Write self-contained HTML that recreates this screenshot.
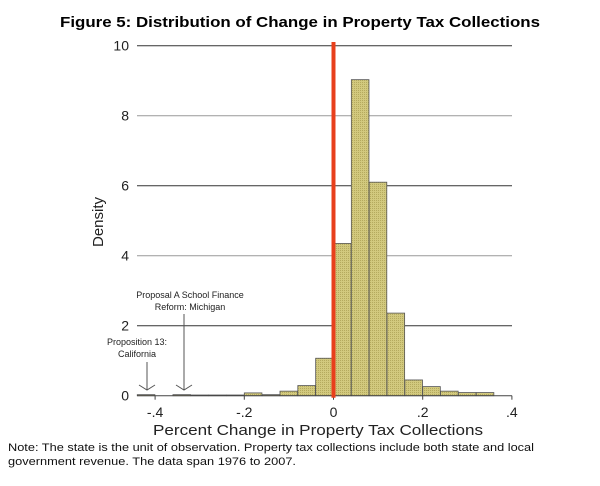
<!DOCTYPE html>
<html><head><meta charset="utf-8"><style>
html,body{margin:0;padding:0;background:#fff;}
svg{display:block;font-family:"Liberation Sans",Arial,sans-serif;}
</style></head><body>
<svg id="chart" width="600" height="486" viewBox="0 0 600 486">
<defs>
<pattern id="dots" width="2" height="2" patternUnits="userSpaceOnUse">
<rect width="2" height="2" fill="#d2c97e"/><rect width="1" height="1" fill="#b5aa5e"/>
</pattern>
</defs>
<text x="300" y="27" text-anchor="middle" font-size="15" font-weight="bold" textLength="480" lengthAdjust="spacingAndGlyphs">Figure 5: Distribution of Change in Property Tax Collections</text>
<g id="grid"></g>
<g id="bars"></g>
<g id="axis"></g>
<text transform="translate(103,222) rotate(-90)" text-anchor="middle" font-size="15" fill="#222">Density</text>
<text x="318" y="435" text-anchor="middle" font-size="15" fill="#222" textLength="330" lengthAdjust="spacingAndGlyphs">Percent Change in Property Tax Collections</text>
<g>
<text x="190" y="298" text-anchor="middle" font-size="9" fill="#222">Proposal A School Finance</text>
<text x="190" y="310" text-anchor="middle" font-size="9" fill="#222">Reform: Michigan</text>
<line x1="184" y1="314" x2="184" y2="390" stroke="#555" stroke-width="1"/>
<polyline points="176,385 184,390 192,385" fill="none" stroke="#555" stroke-width="1"/>
</g>
<g>
<text x="137" y="345" text-anchor="middle" font-size="9" fill="#222">Proposition 13:</text>
<text x="137" y="357" text-anchor="middle" font-size="9" fill="#222">California</text>
<line x1="147" y1="362" x2="147" y2="390" stroke="#555" stroke-width="1"/>
<polyline points="139,385 147,390 155,385" fill="none" stroke="#555" stroke-width="1"/>
</g>
<text x="8" y="451" font-size="11" fill="#111" textLength="526" lengthAdjust="spacingAndGlyphs">Note: The state is the unit of observation. Property tax collections include both state and local</text>
<text x="8" y="465" font-size="11" fill="#111" textLength="288" lengthAdjust="spacingAndGlyphs">government revenue.  The data span 1976 to 2007.</text>
</svg>
<script>
const binStarts = [-0.44,-0.36,-0.32,-0.28,-0.24,-0.20,-0.16,-0.12,-0.08,-0.04,0,0.04,0.08,0.12,0.16,0.20,0.24,0.28,0.32];
const densities = [0.03,0.03,0.02,0.02,0.02,0.08,0.03,0.13,0.29,1.07,4.35,9.03,6.1,2.36,0.45,0.26,0.13,0.09,0.09];
const binWidth = 0.0395;
const yTicks = [0,2,4,6,8,10];
const xTicks = [-0.4,-0.2,0,0.2,0.4];
const xTickLabels = ["-.4","-.2","0",".2",".4"];
const refLineX = 0;

const NS="http://www.w3.org/2000/svg";
const xs = v => 333.5 + v*446;
const ys = v => 395.7 - v*35;
function mk(tag, attrs, parent){const e=document.createElementNS(NS,tag);for(const k in attrs)e.setAttribute(k,attrs[k]);parent.appendChild(e);return e;}
const grid=document.getElementById('grid'), bars=document.getElementById('bars'), axis=document.getElementById('axis');
yTicks.forEach((t,i)=>{
  if(t>0){const l=mk('line',{x1:137,x2:512,y1:ys(t),y2:ys(t),stroke:(i%2===1)?'#333':'#999','stroke-width':1},grid);
  
  }
  const tx=mk('text',{x:129,y:ys(t)+5,'text-anchor':'end','font-size':14,fill:'#222'},axis);
  tx.textContent=t;
  
  
});
binStarts.forEach((b,i)=>{
  const x0=xs(b), x1=xs(b+binWidth), y=ys(densities[i]);
  const r=mk('rect',{x:x0,y:y,width:x1-x0,height:ys(0)-y,fill:'url(#dots)',stroke:'#555','stroke-width':0.8},bars);
  
  
});
const base=mk('line',{x1:137,x2:512,y1:ys(0),y2:ys(0),stroke:'#444','stroke-width':1},axis);


xTicks.forEach((t,i)=>{
  const tk=mk('line',{x1:xs(t),x2:xs(t),y1:ys(0),y2:ys(0)+4,stroke:'#444','stroke-width':1},axis);
  
  
  const tx=mk('text',{x:xs(t),y:417,'text-anchor':'middle','font-size':14,fill:'#222'},axis);
  tx.textContent=xTickLabels[i];
  
  
});
const red=mk('line',{x1:xs(refLineX),x2:xs(refLineX),y1:42,y2:ys(0)+2,stroke:'#e8401c','stroke-width':4},axis);


</script>
</body></html>
